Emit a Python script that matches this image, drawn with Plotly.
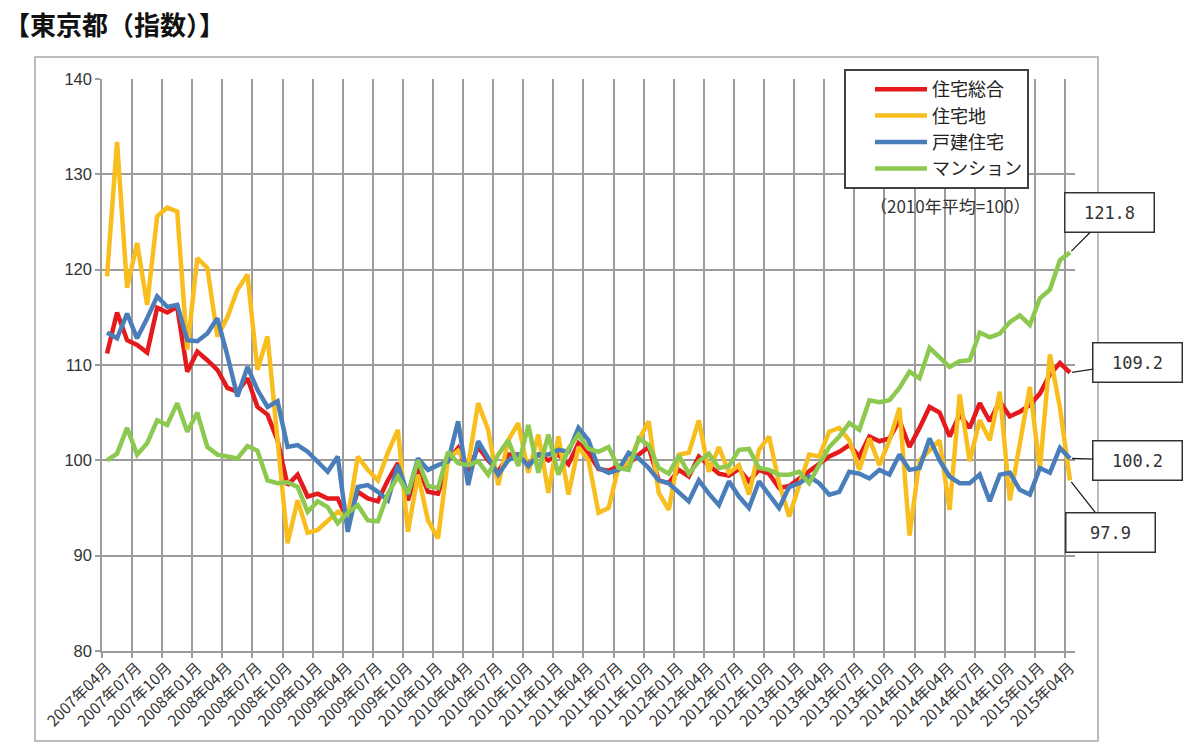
import plotly.graph_objects as go

# ---- data ----
months = [f"{y}年{m:02d}月" for y in range(2007, 2016) for m in range(1, 13)]
months = months[months.index("2007年04月"): months.index("2015年04月") + 1]

tick_labels = months[::3]

sogo = [111.2, 115.5, 112.6, 112.1, 111.3, 116.0, 115.5, 116.1, 109.3, 111.4,
        110.5, 109.5, 107.6, 107.2, 108.6, 105.6, 104.8, 102.1, 97.4, 98.5,
        96.2, 96.5, 96.0, 96.0, 93.7, 96.7, 96.0, 95.7, 97.9, 99.7,
        95.8, 99.3, 96.7, 96.5, 100.0, 101.3, 98.8, 101.4, 100.0, 98.8,
        100.6, 100.6, 99.6, 100.6, 100.0, 100.6, 99.6, 101.8, 100.8, 99.1,
        98.9, 99.4, 99.6, 100.6, 101.4, 97.9, 97.6, 99.0, 98.3, 100.4,
        99.5, 98.6, 98.4, 99.1, 97.8, 99.0, 98.6, 97.1, 97.3, 98.1,
        98.8, 99.7, 100.4, 100.9, 101.6, 100.4, 102.5, 102.0, 102.3, 104.2,
        101.4, 103.4, 105.6, 105.0, 102.5, 104.8, 103.4, 106.0, 104.1, 106.2,
        104.6, 105.1, 105.8, 107.0, 109.0, 110.2, 109.2]

takuchi = [119.3, 133.4, 118.1, 122.8, 116.3, 125.6, 126.5, 126.1, 111.6, 121.2,
           120.2, 113.0, 115.0, 117.9, 119.5, 109.5, 113.0, 102.0, 91.3, 95.8,
           92.4, 92.7, 93.6, 94.6, 94.0, 100.4, 99.0, 97.9, 100.8, 103.2,
           92.5, 98.5, 93.7, 91.8, 100.2, 101.0, 99.5, 106.0, 103.2, 97.4,
           102.1, 103.9, 98.7, 102.7, 96.6, 102.5, 96.4, 101.4, 100.0, 94.5,
           95.0, 99.3, 99.7, 102.1, 104.1, 96.6, 94.8, 100.6, 100.8, 104.2,
           98.8, 101.4, 98.7, 99.5, 96.4, 101.1, 102.5, 97.6, 94.1, 97.2,
           100.6, 100.4, 103.0, 103.4, 102.1, 99.0, 102.3, 99.5, 102.1, 105.5,
           92.1, 100.0, 101.0, 102.1, 94.8, 106.9, 99.9, 104.2, 102.1, 107.2,
           95.8, 101.8, 107.7, 99.0, 111.1, 105.5, 97.9]

kodate = [113.4, 112.8, 115.4, 112.8, 114.9, 117.2, 116.1, 116.3, 112.6, 112.5,
          113.3, 114.9, 111.0, 106.7, 109.8, 107.4, 105.6, 106.2, 101.4, 101.6,
          100.9, 99.9, 98.8, 100.4, 92.5, 97.2, 97.4, 96.7, 95.8, 99.5,
          96.4, 100.2, 99.0, 99.5, 99.9, 104.1, 97.4, 102.0, 100.2, 98.5,
          100.0, 100.6, 99.4, 100.6, 100.6, 101.1, 100.9, 103.4, 102.1, 99.2,
          98.7, 99.0, 100.8, 100.2, 99.2, 97.9, 97.6, 96.7, 95.7, 97.9,
          96.5, 95.3, 97.8, 96.2, 95.0, 97.8, 96.4, 95.0, 97.2, 97.6,
          98.3, 97.6, 96.4, 96.7, 98.8, 98.6, 98.1, 99.0, 98.5, 100.6,
          99.0, 99.2, 102.3, 100.0, 98.3, 97.6, 97.6, 98.5, 95.7, 98.5,
          98.7, 96.9, 96.4, 99.2, 98.7, 101.3, 100.2]

mansion = [100.0, 100.7, 103.4, 100.6, 101.8, 104.2, 103.7, 106.0, 103.0, 105.0,
           101.4, 100.6, 100.4, 100.2, 101.5, 101.0, 97.9, 97.6, 97.7, 97.2,
           94.6, 95.7, 95.1, 93.4, 94.5, 95.3, 93.7, 93.6, 96.5, 98.3,
           96.5, 100.0, 97.3, 97.1, 100.9, 99.7, 99.5, 99.9, 98.5, 100.6,
           102.1, 99.4, 103.7, 98.7, 102.7, 98.5, 101.2, 102.7, 101.2, 100.9,
           101.4, 99.2, 99.0, 102.3, 101.6, 99.2, 98.6, 100.5, 98.6, 99.9,
           100.7, 99.2, 99.4, 101.1, 101.2, 99.2, 99.0, 98.5, 98.5, 98.8,
           97.6, 99.5, 101.4, 102.5, 103.9, 103.2, 106.3, 106.1, 106.3, 107.6,
           109.3, 108.6, 111.8, 110.8, 109.8, 110.4, 110.5, 113.4, 112.9, 113.3,
           114.5, 115.2, 114.2, 117.0, 117.9, 121.0, 121.8]

series_names = ["住宅総合", "住宅地", "戸建住宅", "マンション"]
series_values = [sogo, takuchi, kodate, mansion]
series_colors = ["#E41A1C", "#F7BE1E", "#4A7EBB", "#8DC94F"]

# ---- figure ----
x_idx = list(range(len(months)))
fig = go.Figure()
for name, vals, col in zip(series_names, series_values, series_colors):
    fig.add_trace(go.Scatter(
        x=x_idx, y=vals, mode="lines", name=name,
        line=dict(color=col, width=4.5),
        customdata=months,
        hovertemplate="%{customdata}<br>%{y}<extra>" + name + "</extra>",
    ))

grid = "#9c9c9c"
tick_pos = [months.index(t) for t in tick_labels]
bound_pos = [p - 0.5 for p in tick_pos]

fig.update_xaxes(
    range=[-0.5, len(months) - 0.5],
    tickmode="array", tickvals=tick_pos, ticktext=tick_labels,
    tickangle=-45, ticks="", showgrid=False, zeroline=False,
    showline=True, linecolor=grid, linewidth=1.5,
    tickfont=dict(family="Noto Sans CJK JP", size=15.5, color="#333333"),
    minor=dict(tickmode="array", tickvals=bound_pos, showgrid=True,
               gridcolor=grid, gridwidth=1.5, ticks="outside", ticklen=5,
               tickcolor=grid, tickwidth=1.5),
)
fig.update_yaxes(
    range=[80, 140], dtick=10, tick0=80,
    showgrid=True, gridcolor=grid, gridwidth=1.5, zeroline=False,
    showline=True, linecolor=grid, linewidth=1.5,
    ticks="outside", ticklen=5, tickcolor=grid, tickwidth=1.5,
    tickfont=dict(family="Liberation Sans", size=16.5, color="#333333"),
)

ann_font = dict(family="DejaVu Sans Mono", size=17, color="#333333")
callouts = [(96, mansion[-1], 40, -40), (96, sogo[-1], 68, -10),
            (96, kodate[-1], 68, 2), (96, takuchi[-1], 41, 52)]
annotations = []
for xv, yv, ax, ay in callouts:
    annotations.append(dict(
        x=xv, y=yv, xref="x", yref="y", text=f"{yv:.1f}",
        showarrow=True, arrowhead=0, arrowwidth=1.3, arrowcolor="#222222",
        ax=ax, ay=ay, font=ann_font, bgcolor="white",
        bordercolor="#333333", borderwidth=1.5, borderpad=2,
        width=84, height=34, align="center", standoff=2,
    ))
annotations.append(dict(
    x=(950 - 102) / 973, y=(651 - 205) / 572, xref="paper", yref="paper",
    text="（2010年平均=100）", showarrow=False, xanchor="center", yanchor="middle",
    font=dict(family="Noto Sans CJK JP", size=17, color="#333333"),
))

fig.update_layout(
    width=1200, height=750,
    margin=dict(l=102, r=125, t=79, b=99),
    paper_bgcolor="white", plot_bgcolor="white",
    title=dict(text="<b>【東京都（指数）】</b>", x=4 / 1200, xanchor="left",
               y=1 - 26 / 750, yanchor="middle",
               font=dict(family="Noto Sans CJK JP", size=26, color="#111111")),
    legend=dict(x=(844 - 102) / 973, y=(651 - 69) / 572, xanchor="left", yanchor="top",
                bgcolor="white", bordercolor="#404040", borderwidth=2,
                font=dict(family="Noto Sans CJK JP", size=18, color="#222222"),
                itemwidth=52, indentation=24),
    annotations=annotations,
    shapes=[dict(type="rect", xref="paper", yref="paper",
                 x0=(35 - 102) / 973, x1=(1098 - 102) / 973,
                 y0=(651 - 741) / 572, y1=(651 - 57) / 572,
                 line=dict(color="#a8a8a8", width=1.5), layer="below")],
    showlegend=True,
)

fig.write_html("out.html")
